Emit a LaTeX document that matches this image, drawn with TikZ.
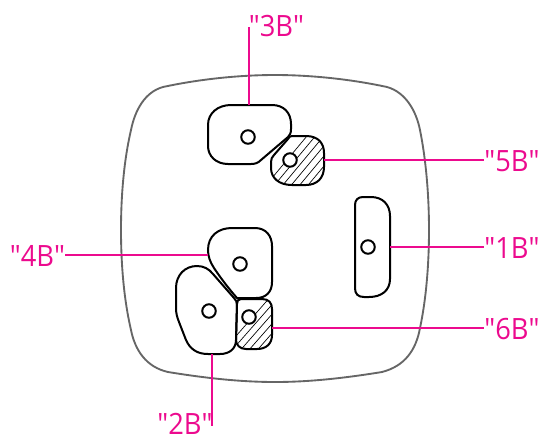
\documentclass[tikz,border=0pt]{standalone}
\usepackage{fontspec}
\newfontfamily\tagfont{Open Sans}[FakeStretch=0.93]
\definecolor{lead}{HTML}{EC0A8E}
\definecolor{shell}{HTML}{666666}
\tikzset{
  pad/.style={draw=black,line width=1.5pt},
  hole/.style={circle,draw=black,line width=1.5pt,fill=white,minimum size=13.5*0.75pt,inner sep=0pt},
  leader/.style={draw=lead,line width=1.2pt},
  tag/.style={text=lead,font=\tagfont\fontsize{22pt}{24pt}\selectfont,inner sep=0pt},
  hatchline/.style={draw=black,line width=0.5pt}
}
\begin{document}
\begin{tikzpicture}[x=0.75pt,y=-0.75pt]
\useasboundingbox (0,0) rectangle (543,437);
% shell
\draw[draw=shell,line width=1.4pt]
  (163,87) .. controls (200,79) and (240,75) .. (275,75) .. controls (310,75) and (350,79) .. (387,87)
  .. controls (405,92) and (416,110) .. (420,130)
  .. controls (426,160) and (429,195) .. (429,230) .. controls (429,265) and (426,300) .. (420,328)
  .. controls (416,350) and (405,366) .. (382,372)
  .. controls (345,378) and (310,382) .. (275,382) .. controls (240,382) and (205,378) .. (168,372)
  .. controls (146,367) and (135,350) .. (131,330)
  .. controls (124,300) and (121,265) .. (121,230) .. controls (121,195) and (124,160) .. (131,130)
  .. controls (135,110) and (145,92) .. (163,87) -- cycle;
% hatched pads
\def\padfive{(292,136) -- (306,136) .. controls (318,136) and (324,143) .. (324,153) -- (324,167) .. controls (324,178) and (317,185) .. (306,185) -- (292,185) .. controls (279,185) and (271,178) .. (271,168) -- (271,162) .. controls (271,159) and (272,157) .. (274,155) -- (288,139) .. controls (289,137) and (290,136) .. (292,136) -- cycle}
\def\padsix{(241,299) -- (262,299) .. controls (269,299) and (272,303) .. (272,309) -- (272,335) .. controls (272,344) and (266,349) .. (257,349) -- (246,349) .. controls (240,349) and (236,345) .. (236,340) -- (237,304) .. controls (237,301) and (238,299) .. (241,299) -- cycle}
\begin{scope}
  \clip \padfive;
  \foreach \k in {0,...,14}{
    \draw[hatchline] (262+\k*8.4,190) -- (312+\k*8.4,130);
  }
\end{scope}
\begin{scope}
  \clip \padsix;
  \foreach \k in {0,...,11}{
    \draw[hatchline] (222+\k*8.4,352) -- (272+\k*8.4,295);
  }
\end{scope}
\draw[pad] \padfive;
\draw[pad] \padsix;
% plain pads
\draw[pad] (231,105) -- (272,105) .. controls (284,105) and (291,113) .. (291,124) -- (291,129) .. controls (291,133) and (290,135) .. (288,137) -- (261,160) .. controls (258,163) and (255,164) .. (251,164) -- (228,164) .. controls (216,164) and (208,156) .. (208,146) -- (208,125) .. controls (208,113) and (218,105) .. (231,105) -- cycle;
\draw[pad] (232,228) -- (255,228) .. controls (266,228) and (272,236) .. (272,246) -- (272,282) .. controls (272,292) and (266,298) .. (256,298) -- (237,298) .. controls (230,290) and (222,280) .. (214,268) .. controls (210,262) and (208,256) .. (208,250) .. controls (208,236) and (218,228) .. (232,228) -- cycle;
\draw[pad] (197,266) .. controls (204,266) and (209,269) .. (213,274) -- (234,298) .. controls (236,300) and (237,302) .. (237,305) -- (236,340) .. controls (236,349) and (229,354) .. (220,354) -- (208,354) .. controls (197,354) and (190,349) .. (186,340) -- (179,322) .. controls (177,317) and (176,313) .. (176,308) -- (176,288) .. controls (176,275) and (185,266) .. (197,266) -- cycle;
\draw[pad] (363,197) -- (371,197) .. controls (383,197) and (390,205) .. (390,216) -- (390,279) .. controls (390,290) and (382,297) .. (369,297) -- (364,297) .. controls (358,297) and (355,294) .. (355,288) -- (355,205) .. controls (355,200) and (358,197) .. (363,197) -- cycle;
% holes
\node[hole] (h3) at (248,137) {};
\node[hole] (h5) at (290,160) {};
\node[hole] (h1) at (368,247) {};
\node[hole] (h4) at (240,264) {};
\node[hole] (h2) at (209,311) {};
\node[hole] (h6) at (249,317) {};
% labels
\node[tag] (t3) at (276.5,26.5) {"3B"};
\node[tag] (t5) at (512,161) {"5B"};
\node[tag] (t1) at (512,248) {"1B"};
\node[tag] (t6) at (512,329) {"6B"};
\node[tag] (t4) at (37.5,256) {"4B"};
\node[tag] (t2) at (185,424) {"2B"};
% leaders
\coordinate (p3) at (249,105);
\coordinate (e3) at (249,27);
\coordinate (p5) at (324,160);
\coordinate (p1) at (390,247);
\coordinate (p6) at (272,328);
\coordinate (p4) at (208,255);
\coordinate (p2) at (212,354);
\coordinate (e2) at (212,426);
\draw[leader] (p3) -- (e3);
\draw[leader] (p5) -- (t5.west |- p5);
\draw[leader] (p1) -- (t1.west |- p1);
\draw[leader] (p6) -- (t6.west |- p6);
\draw[leader] (p4) -- (t4.east |- p4);
\draw[leader] (p2) -- (e2);
\end{tikzpicture}
\end{document}
